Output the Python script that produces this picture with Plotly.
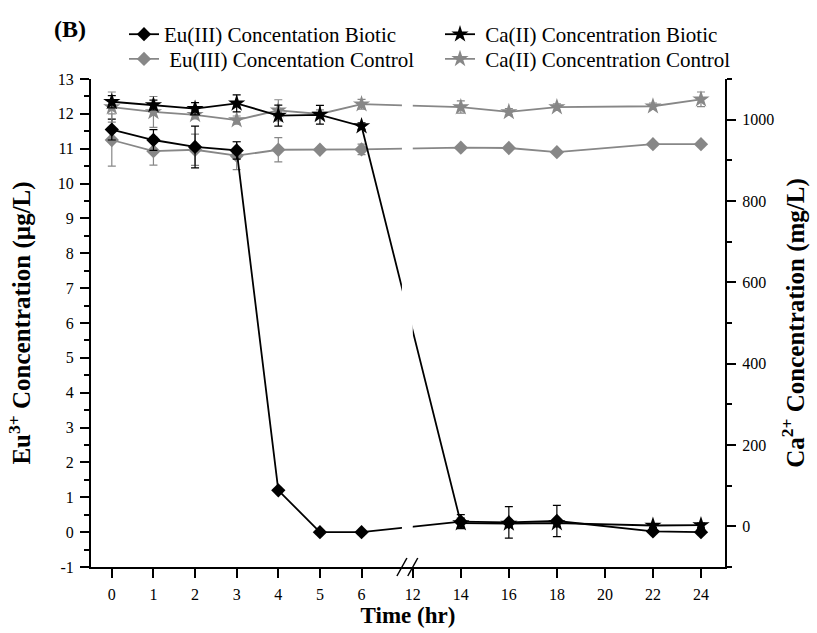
import plotly.graph_objects as go

# ---------------- data ----------------
time_hr = [0, 1, 2, 3, 4, 5, 6, 14, 16, 18, 22, 24]

eu_biotic = [11.55, 11.25, 11.05, 10.95, 1.2, 0.0, 0.0, 0.30, 0.28, 0.32, 0.02, 0.0]
eu_biotic_err = [0.30, 0.30, 0.60, 0.25, 0.05, 0.05, 0.05, 0.20, 0.45, 0.45, 0.05, 0.05]

eu_control = [11.25, 10.93, 10.97, 10.80, 10.97, 10.97, 10.98, 11.03, 11.02, 10.90, 11.13, 11.13]
eu_control_err = [0.75, 0.40, 0.45, 0.40, 0.35, 0.05, 0.15, 0.05, 0.05, 0.05, 0.05, 0.05]

ca_biotic = [1044, 1036, 1027, 1040, 1010, 1012, 984, 8, 7, 8, 2, 3]
ca_biotic_err = [15, 12, 15, 21, 26, 23, 8, 12, 8, 8, 5, 5]

ca_control = [1031, 1019, 1012, 999, 1023, 1014, 1038, 1031, 1019, 1031, 1033, 1050]
ca_control_err = [37, 38, 10, 10, 26, 10, 12, 15, 8, 8, 8, 18]

tick_times = [0, 1, 2, 3, 4, 5, 6, 12, 14, 16, 18, 20, 22, 24]
tick_labels = [str(t) for t in tick_times]

eu_ticks = list(range(-1, 14))
eu_tick_labels = [str(v) for v in eu_ticks]   # plain hyphen for "-1"

names = ["Eu(III) Concentation Biotic", " Ca(II) Concentration Biotic",
         " Eu(III) Concentation Control", " Ca(II) Concentration Control"]

# ---------------- broken time axis (0-7 | 11.6-25 compressed) ----------------
SEG1_END = 7.0
SEG2_START = 11.6
SEG2_SCALE = 0.577


def xpos(t):
    return t if t <= SEG1_END else SEG1_END + (t - SEG2_START) * SEG2_SCALE


xs = [xpos(t) for t in time_hr]

BLACK = "#000000"
GRAY = "#878787"
FONT = "Liberation Serif"

fig = go.Figure()


def add_series(y, err, name, color, symbol, size, yaxis, legend):
    fig.add_trace(go.Scatter(
        x=xs, y=y, name=name, mode="lines+markers", yaxis=yaxis, legend=legend,
        showlegend=True,
        line=dict(color=color, width=1.8),
        marker=dict(symbol=symbol, size=size, color=color, line=dict(width=0)),
        error_y=dict(type="data", array=err, visible=True, color=color,
                     thickness=1.2, width=4),
        cliponaxis=False,
    ))


add_series(eu_control, eu_control_err, names[2], GRAY, "diamond", 11, "y", "legend3")
add_series(ca_control, ca_control_err, names[3], GRAY, "star", 13, "y2", "legend4")
add_series(eu_biotic, eu_biotic_err, names[0], BLACK, "diamond", 11, "y", "legend")
add_series(ca_biotic, ca_biotic_err, names[1], BLACK, "star", 13, "y2", "legend2")

axis_common = dict(showline=True, linewidth=2, linecolor="black", ticks="outside",
                   tickwidth=1.5, tickcolor="black", showgrid=False, zeroline=False,
                   ticklabelstandoff=3,
                   tickfont=dict(family=FONT, size=16, color="black"))

TITLE_SIZE = 25

fig.update_layout(
    width=817, height=633,
    showlegend=True,
    margin=dict(l=91, r=92, t=79, b=60),
    paper_bgcolor="white", plot_bgcolor="white",
    font=dict(family=FONT, color="black"),
    xaxis=dict(range=[-0.5, xpos(25)], tickvals=[xpos(t) for t in tick_times],
               ticktext=tick_labels, ticklen=9,
               title=dict(text="<b>Time (hr)</b>", font=dict(family=FONT, size=23), standoff=2),
               **axis_common),
    yaxis=dict(range=[-1, 13], tickvals=eu_ticks, ticktext=eu_tick_labels, ticklen=9,
               minor=dict(dtick=0.5, ticklen=5, ticks="outside", tickcolor="black", tickwidth=1.5),
               title=dict(text="<b>Eu<sup>3+</sup> Concentration (µg/L)</b>",
                          font=dict(family=FONT, size=TITLE_SIZE), standoff=20),
               **axis_common),
    yaxis2=dict(range=[-100, 1100], dtick=200, tick0=0, ticklen=9, overlaying="y", side="right",
                minor=dict(dtick=100, ticklen=5, ticks="outside", tickcolor="black", tickwidth=1.5),
                title=dict(text="<b>Ca<sup>2+</sup> Concentration (mg/L)</b>",
                           font=dict(family=FONT, size=TITLE_SIZE), standoff=13),
                **axis_common),
)

leg_font = dict(family=FONT, size=21, color="black")
row1 = 1 + (79 - 34) / 494
row2 = 1 + (79 - 59) / 494
col1 = (124 - 91) / 634
col2 = (440 - 91) / 634
for key, xx, yy in [("legend", col1, row1), ("legend2", col2, row1),
                    ("legend3", col1, row2), ("legend4", col2, row2)]:
    fig.update_layout({key: dict(x=xx, y=yy, xanchor="left", yanchor="middle",
                                 bgcolor="rgba(0,0,0,0)", borderwidth=0, visible=True,
                                 font=leg_font, orientation="h")})

# break gap and "//" marks
fig.add_shape(type="rect", xref="x", yref="paper", x0=6.97, x1=xpos(12), y0=0.006, y1=1.0,
              fillcolor="white", line=dict(width=0), layer="above")
for xb in [6.97, xpos(12)]:
    fig.add_shape(type="line", xref="x", yref="paper", xsizemode="pixel", ysizemode="pixel",
                  xanchor=xb, yanchor=0, x0=-5, x1=5, y0=-9, y1=9,
                  line=dict(color="black", width=1.5), layer="above")

fig.add_annotation(text="<b>(B)</b>", xref="paper", yref="paper",
                   x=(52 - 91) / 634, y=1 + (79 - 28) / 494, xanchor="left", yanchor="middle",
                   showarrow=False, font=dict(family=FONT, size=24, color="black"))

fig.write_html("out.html", config={"displayModeBar": False},
               post_script="document.body.style.margin='0px';")
